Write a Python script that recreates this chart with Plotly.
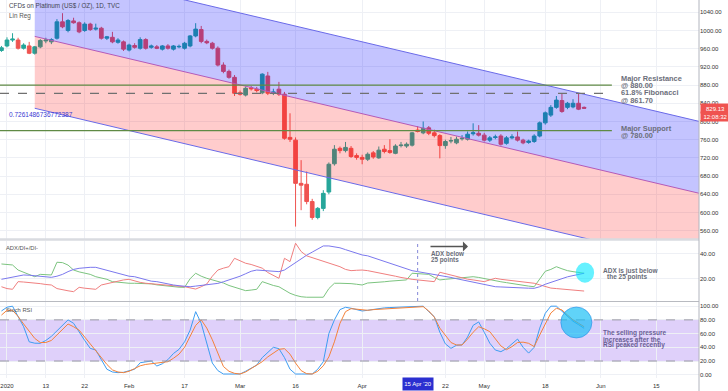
import pandas as pd
import plotly.graph_objects as go

# ---------------- data ----------------
calendar = [d for d in pd.bdate_range("2019-12-31", "2020-07-03") if d != pd.Timestamp("2020-01-01")]
bar_of = {d.strftime("%Y-%m-%d"): i for i, d in enumerate(calendar)}

opens = [956,966,979,979,961,966,950,964,977,975,
         983,1019,1000,1021,1017,1000,1014,1003,1005,983,
         985,974,975,957,967,961,980,963,964,959,
         966,959,964,961,966,988,1002,976,972,961,
         924,910,897,863,858,874,871,863,900,862,
         871,860,765,759,664,662,624,589,609,645,
         707,741,736,741,725,721,717,731,720,739,
         736,730,747,746,748,781,775,786,775,769,
         747,757,753,762,761,773,774,770,759,765,
         768,752,764,766,759,754,756,768,797,814,
         831,846,831,832,840,831]
highs = [966,985,994,984,972,975,966,981,984,983,
         1025,1038,1025,1028,1020,1018,1017,1015,1008,988,
         997,983,978,971,972,985,983,969,968,968,
         970,968,969,975,990,1016,1010,980,975,965,
         930,914,902,868,877,878,876,906,909,872,
         887,865,818,765,715,690,630,612,649,710,
         748,745,755,746,730,727,732,735,745,748,
         761,750,755,754,777,790,800,790,782,772,
         760,766,767,770,778,796,792,775,768,771,
         772,768,772,778,762,760,772,800,822,836,
         856,862,843,849,862,833]
lows = [953,963,975,958,958,948,947,961,972,970,
        980,1005,996,1015,994,997,999,1000,980,979,
        972,971,955,954,960,958,958,960,959,956,
        958,956,961,958,963,985,972,970,958,921,
        906,894,856,857,855,868,864,860,858,858,
        856,760,755,569,605,618,584,585,603,640,
        703,730,732,720,716,706,713,718,718,730,
        729,728,743,742,745,776,772,770,765,719,
        740,752,750,758,758,769,767,756,755,761,
        747,749,761,756,750,751,753,765,793,810,
        828,819,827,829,825,828]
closes = [962,979,981,961,968,950,964,978,979,980,
          1019,1008,1022,1017,997,1014,1002,1005,983,986,
          975,979,959,968,963,980,961,966,961,966,
          961,966,965,972,988,1003,976,973,961,924,
          910,897,862,860,873,872,868,904,862,865,
          860,763,761,664,660,624,589,609,642,706,
          739,736,743,723,721,717,728,722,737,734,
          732,746,748,750,775,778,785,774,769,747,
          756,758,761,763,772,775,770,759,764,766,
          750,764,766,759,753,757,768,797,819,831,
          847,822,840,840,827,829.13]

adx = [19.5,20.5,21.6,22.5,23,22.8,22.3,22,21.5,21.1,
       22,23.5,25.7,27.5,28.4,29,29.2,29.2,28,26.5,
       25,24,23,22,21.6,20.5,19.5,18,17.6,16.5,
       15.5,14.9,14.3,13.8,13.5,14,14.6,15.4,15.8,16.2,
       17.5,19,20.3,22,24,26,27,26.8,26.4,26,
       25.7,27,30,33,36.5,39,41.5,44,46.5,46.5,
       46,45,43.5,42,40.5,39.2,38.5,37,35.5,34,
       32.5,31,29.5,28,26.5,25.7,25,24,23.2,22.5,
       22.2,21,20,19,18,17,16,15,14.3,13.5,
       13.3,13,12.8,12.6,12.4,12.3,12.2,13.5,15.5,17,
       18.5,20.3,21.5,22.5,23.5,24.4]
di_plus = [31.9,31.5,31.1,27,25,23.5,21.6,23.5,23.3,23,
           33.3,33,31,27,25.5,24.4,23.5,21.6,20.5,19.5,
           17.6,17,16.5,16.3,16.3,16.2,16,15.8,15,14.5,
           13.5,13.3,13.1,13,20,24.4,22,20.3,19,17.6,
           16.5,14.5,13,11.5,10.3,10.8,11.4,17.6,16,14.5,
           13.5,11,8.2,6.5,5.4,5,4.8,4.6,5,12,
           16.3,16.3,16.3,16,15.5,14.9,16.5,16.7,17,17.5,
           18,18.5,18.7,19,24.4,24,24,23.5,21,19,
           19.5,20,20.5,21,21.3,21.6,21,20,19,18.2,
           17.5,16.8,16,15.2,14.5,14,13.5,20,26,27.5,
           29.7,28,26.5,25.7,25,24.4]
di_minus = [13.5,12,11.4,17.6,17.3,17,16.8,16,15.3,14.9,
            12,10.9,10.2,9.5,13,12.3,11.8,11.4,14.9,16,
            17,18.5,19,19.5,18,17,16.3,15.8,15.5,15.1,
            14.9,14.4,13.9,13.5,12.5,11.6,13.5,15.7,22,27,
            28.5,29.7,36.5,34.5,32.5,31.5,30.3,28.5,25,22.5,
            20.3,36.5,33.8,48.7,42,38.5,37,35.5,34,32.5,
            31,29.7,27.5,26.5,26.8,27,26.5,25.7,24.8,24,
            23,22,21,20,19.5,19,18.4,17.8,17.6,25.2,
            24,23,22,20.3,19.6,19,18.3,17.6,19,20.3,
            19.5,19,18.5,18,17.6,17,16.3,15,13.5,12.4,
            12,11.7,11.4,11,10.5,10]
stoch_k = [93,98.5,100,86,70,48,46,45.8,50,56,
           64,73,80,75,62,50,38.5,36,22,8,
           4,3,3.5,6,8,17.5,19,20,12.7,16,
           22,31,37,48,65,92,75,45,17,6,
           1,1,1,1,5,9,14,25,33,40,
           38,25,8,1,1,1,1,8,19,60,
           80,95,98.4,97,95,93,94,95.5,96.5,97.5,
           98,98.5,99,99.5,100,100,100,92,84.7,62,
           45,38.5,43,43.4,55,72,77,62,46,36,
           33.6,38,45,52,40,31.5,40,68,89.6,100,
           100,93,85,78,73,67.7]
stoch_d = [87,94,94,85,74,63,53,47,47,50,
           58,66,74,70,65,55,45,34,25,15,
           7,4,3,5,9,13,15,16,17,18.5,
           19,24,30,40,55,72,80,68,51,30,
           12,5,2,1,4,9,14,19,26,32,
           37,38,30,17,6,1.5,1,5,13,26,
           48,75,92,96.4,95.5,94,94,95,95.5,96,
           97,97.5,98,98.5,99,99.3,99.3,93,84,68,
           57,47,43.4,43.4,52,62,70,67,62.8,52,
           42,36.5,41,47,47.5,45.8,41,58,75,90,
           97,94.5,87,80,75,70]

reg_dates = ["2020-01-09", "2020-06-25"]
reg_mid = [987.0, 641.4]
reg_dev = 158.0
reg_label = "0.7261486736772387"

level_values = [880.0, 861.7, 780.0]
level_end = "2020-06-03"
marked_date = "2020-04-15"
last_price = 829.13
countdown = "12:08:32"

tick_dates = ["2020-01-02", "2020-01-13", "2020-01-22", "2020-02-03", "2020-02-17", "2020-03-02",
              "2020-03-16", "2020-04-01", "2020-04-22", "2020-05-01", "2020-05-18", "2020-06-01", "2020-06-15"]
tick_text = ["2020", "13", "22", "Feb", "17", "Mar", "16", "Apr", "22", "May", "18", "Jun", "15"]
price_ticks = [560, 600, 640, 680, 720, 760, 800, 840, 880, 920, 960, 1000, 1040]
adx_ticks = [20, 40]
rsi_ticks = [0, 20, 40, 60, 80, 100]

# ---------------- figure ----------------
n = len(opens)
xs = [bar_of[calendar[i].strftime("%Y-%m-%d")] for i in range(n)]
tickx = [bar_of[d] for d in tick_dates]
XR = [-0.26, 125.7]
PW, PH = 699.0, 378.0
GRID = "#eef0f5"
FONT = "Liberation Sans"

fig = go.Figure()

reg_x = [bar_of[d] for d in reg_dates]
lower = [m - reg_dev for m in reg_mid]
upper = [m + reg_dev for m in reg_mid]
fig.add_trace(go.Scatter(x=reg_x, y=lower, mode="lines", line=dict(color="#6a6ae8", width=1), xaxis="x", yaxis="y"))
fig.add_trace(go.Scatter(x=reg_x, y=reg_mid, mode="lines", line=dict(color="#b45ab8", width=1),
                         fill="tonexty", fillcolor="rgba(255,0,0,0.2)", xaxis="x", yaxis="y"))
fig.add_trace(go.Scatter(x=reg_x, y=upper, mode="lines", line=dict(color="#6a6ae8", width=1),
                         fill="tonexty", fillcolor="rgba(0,0,255,0.23)", xaxis="x", yaxis="y"))

fig.add_trace(go.Candlestick(x=xs, open=opens, high=highs, low=lows, close=closes,
                             increasing=dict(line=dict(color="#26a69a", width=1), fillcolor="#26a69a"),
                             decreasing=dict(line=dict(color="#ef5350", width=1), fillcolor="#ef5350"),
                             whiskerwidth=0, xaxis="x", yaxis="y"))

lvl_x = [XR[0], bar_of[level_end]]
fig.add_trace(go.Scatter(x=lvl_x, y=[level_values[0]] * 2, mode="lines", line=dict(color="#5f8a45", width=1.3)))
fig.add_trace(go.Scatter(x=lvl_x, y=[level_values[1]] * 2, mode="lines", line=dict(color="#707070", width=1.2, dash="dash")))
fig.add_trace(go.Scatter(x=lvl_x, y=[level_values[2]] * 2, mode="lines", line=dict(color="#5f8a45", width=1.3)))

fig.add_trace(go.Scatter(x=xs, y=di_plus, mode="lines", line=dict(color="#7cc47f", width=1), xaxis="x2", yaxis="y2"))
fig.add_trace(go.Scatter(x=xs, y=di_minus, mode="lines", line=dict(color="#f07f7f", width=1), xaxis="x2", yaxis="y2"))
fig.add_trace(go.Scatter(x=xs, y=adx, mode="lines", line=dict(color="#7b78ee", width=1), xaxis="x2", yaxis="y2"))

fig.add_trace(go.Scatter(x=xs, y=stoch_k, mode="lines", line=dict(color="#3d9df2", width=1), xaxis="x3", yaxis="y3"))
fig.add_trace(go.Scatter(x=xs, y=stoch_d, mode="lines", line=dict(color="#f5823a", width=1), xaxis="x3", yaxis="y3"))


def pxy(xp, yp):
    return xp / PW, 1 - yp / PH


def txt(s, xp, yp, size, color, bold=False):
    x, y = pxy(xp, yp)
    return dict(text=f"<b>{s}</b>" if bold else s, x=x, y=y, xref="paper", yref="paper",
                xanchor="left", yanchor="middle", showarrow=False,
                font=dict(size=size, color=color, family=FONT))


GRAYT = "#6b6e7a"
annots = [
    txt("CFDs on Platinum (US$ / OZ), 1D, TVC", 7, 6, 6.3, "#434651"),
    txt("Lin Reg", 7, 15.7, 6.3, "#555555"),
    txt(reg_label, 7, 115, 6.5, "#3a3ad2"),
    txt("Major Resistance", 619, 78.3, 7.4, GRAYT, True),
    txt("@ 880.00", 619, 85.8, 7.4, GRAYT, True),
    txt("61.8% Fibonacci", 619, 92.8, 7.4, GRAYT, True),
    txt("@ 861.70", 619, 100.3, 7.4, GRAYT, True),
    txt("Major Support", 619, 128.2, 7.4, GRAYT, True),
    txt("@ 780.00", 619, 135, 7.4, GRAYT, True),
    txt("ADX/DI+/DI-", 4, 247.5, 5.8, "#555555"),
    txt("ADX below", 429, 253.8, 6.3, "#6a6d78", True),
    txt("25 points", 429, 260, 6.3, "#6a6d78", True),
    txt("ADX is just below", 601, 270.8, 6.5, "#6a6d78", True),
    txt("the 25 points", 605, 277, 6.5, "#6a6d78", True),
    txt("Stoch RSI", 4, 310, 5.8, "#555555"),
    txt("The selling pressure", 601, 333.2, 6.5, "#6a5f95", True),
    txt("increases after the", 601, 339, 6.5, "#6a5f95", True),
    txt("RSI peaked recently", 601, 344.8, 6.5, "#6a5f95", True),
]
hx, hy = pxy(468, 246.5)
annots.append(dict(x=hx, y=hy, xref="paper", yref="paper", ax=-39, ay=0, showarrow=True,
                   arrowhead=1, arrowsize=1.3, arrowwidth=1.3, arrowcolor="#555555", text=""))
annots.append(dict(x=1, y=last_price, xref="paper", yref="y", xanchor="left", yanchor="middle", xshift=1,
                   text=f"{last_price:.2f}", showarrow=False, bgcolor="#ef5350", width=27, height=7,
                   font=dict(size=6, color="white", family=FONT)))
annots.append(dict(x=1, y=last_price, xref="paper", yref="y", xanchor="left", yanchor="middle", xshift=1,
                   yshift=-8, text=countdown, showarrow=False, bgcolor="#ef5350", width=27, height=7,
                   font=dict(size=6, color="white", family=FONT)))
annots.append(dict(x=bar_of[marked_date], y=1 - 384 / PH, xref="x3", yref="paper", xanchor="center",
                   yanchor="middle", text="15 Apr '20", showarrow=False, bgcolor="#2b2fd0", width=28, height=10,
                   font=dict(size=6, color="white", family=FONT)))

shapes = [
    dict(type="rect", xref="x3 domain", yref="y3", x0=0, x1=1, y0=20, y1=80,
         fillcolor="rgba(149,100,240,0.3)", line=dict(width=0), layer="below"),
    dict(type="line", xref="x3 domain", yref="y3", x0=0, x1=1, y0=80, y1=80,
         line=dict(color="#9a9aa6", width=1, dash="dash")),
    dict(type="line", xref="x3 domain", yref="y3", x0=0, x1=1, y0=20, y1=20,
         line=dict(color="#9a9aa6", width=1, dash="dash")),
    dict(type="line", xref="x2", yref="y2 domain", x0=bar_of[marked_date], x1=bar_of[marked_date], y0=0, y1=1,
         line=dict(color="#8488d8", width=1, dash="dot")),
    dict(type="circle", xref="x2", yref="y2", x0=103.5, x1=106.8, y0=16.8, y1=33,
         fillcolor="rgba(0,232,255,0.6)", line=dict(width=0)),
    dict(type="circle", xref="x3", yref="y3", x0=100.8, x1=106.4, y0=53.6, y1=98.8,
         fillcolor="rgba(20,190,245,0.68)", line=dict(color="rgba(40,140,230,0.6)", width=1)),
    dict(type="line", xref="paper", yref="paper", x0=0, x1=1, y0=1 - 239.5 / PH, y1=1 - 239.5 / PH,
         line=dict(color="#d9dbe0", width=2.5)),
    dict(type="line", xref="paper", yref="paper", x0=0, x1=1, y0=1 - 301.5 / PH, y1=1 - 301.5 / PH,
         line=dict(color="#b8bac0", width=1.2)),
    dict(type="line", xref="paper", yref="paper", x0=1, x1=1, y0=1 - 391 / PH, y1=1,
         line=dict(color="#b2b5be", width=1)),
]

tickfont = dict(size=6, color="#333333", family=FONT)
xcommon = dict(range=XR, tickvals=tickx, showgrid=True, gridcolor=GRID, zeroline=False, showline=False, ticks="")
ycommon = dict(side="right", showgrid=True, gridcolor=GRID, zeroline=False, showline=False, ticks="",
               tickfont=tickfont, tickformat=".2f")

fig.update_layout(
    width=728, height=391, margin=dict(l=0, r=29, t=0, b=13),
    paper_bgcolor="white", plot_bgcolor="white", showlegend=False, boxgap=0.05,
    xaxis=dict(**xcommon, anchor="y", showticklabels=False, rangeslider=dict(visible=False)),
    xaxis2=dict(**xcommon, anchor="y2", matches="x", showticklabels=False),
    xaxis3=dict(**xcommon, anchor="y3", matches="x", showticklabels=True, ticktext=tick_text, tickfont=tickfont,
                ticklabelstandoff=3),
    yaxis=dict(**ycommon, domain=[1 - 239 / PH, 1], range=[541.7, 1067], tickvals=price_ticks, anchor="x"),
    yaxis2=dict(**ycommon, domain=[1 - 301 / PH, 1 - 241 / PH], range=[1.94, 50.5], tickvals=adx_ticks, anchor="x2"),
    yaxis3=dict(**ycommon, domain=[0, 1 - 302 / PH], range=[-4.8, 106.1], tickvals=rsi_ticks, anchor="x3"),
    annotations=annots, shapes=shapes,
)

fig.write_html("out.html", config={"displayModeBar": False},
               post_script="document.body.style.margin='0';document.body.style.overflow='hidden';")
